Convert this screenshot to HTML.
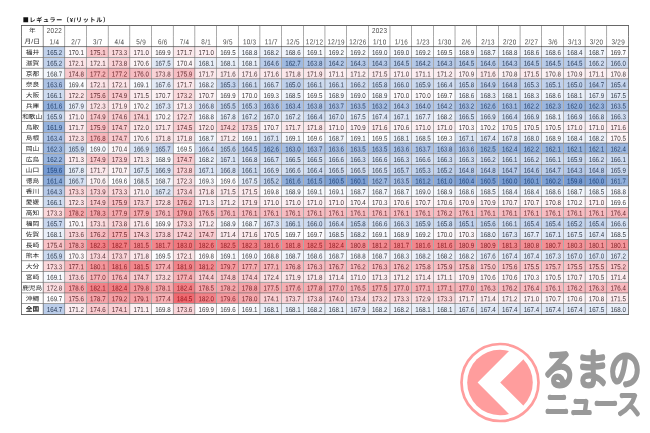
<!DOCTYPE html>
<html lang="ja">
<head>
<meta charset="utf-8">
<title>レギュラー（¥/リットル）</title>
<style>
html,body{margin:0;padding:0;background:#fff;}
body{width:650px;height:433px;position:relative;overflow:hidden;font-family:"Liberation Sans","Noto Sans CJK JP",sans-serif;}
#sheet{position:absolute;left:0;top:0;width:2352px;height:971.31px;transform-origin:0 0;transform:translate(21.450px,25.650px) scale(0.25808,0.29730);}
#title{position:absolute;left:23px;top:15px;margin:0;font-size:6px;line-height:10px;height:10px;font-weight:bold;color:#111;white-space:nowrap;letter-spacing:0.7px;font-family:"Liberation Sans","Noto Sans CJK JP",sans-serif;transform-origin:0 0;transform:matrix(1,0.0006,0,1,-0.2,0.05);}
table{text-rendering:geometricPrecision;position:absolute;left:-1.0px;top:-1.0px;border-collapse:collapse;table-layout:fixed;width:2354px;font-size:24px;color:#3a3a3a;}
col{width:84px;}
td,th{box-sizing:border-box;padding:0 0 4px 4px;text-align:center;vertical-align:bottom;font-weight:normal;border:2px solid #5c5c5c;height:36px;line-height:20px;white-space:nowrap;overflow:hidden;}
thead th{font-size:24.5px;height:35.654px;letter-spacing:1.2px;color:#484848;}
thead tr.y th{border-bottom:none;padding-bottom:7.4px;}
thead tr.d th{border-top:none;padding-bottom:4.4px;}
tbody th,thead th.j{font-family:"Liberation Sans","Noto Sans CJK JP",sans-serif;font-size:20.5px;font-weight:400;color:#222;padding-left:0;padding-bottom:5.5px;}
thead tr.y th.j{padding-bottom:9px;letter-spacing:0;}
thead tr.d th.j{padding-bottom:6.5px;letter-spacing:0.5px;padding-left:0.5px;}
#title .sq{font-family:"Noto Sans CJK JP",sans-serif;}
th span{display:inline-block;transform:matrix(1.27,0.002,0,1,0,0);}
td i,th i{display:inline-block;font-style:normal;transform:matrix(1,0.002,0,1,0,0);}
tbody tr.total th{font-weight:700;}
thead tr.y th{border-top-color:#000;}
tbody tr.total>*{border-bottom-color:#000;}
tr>:first-child{border-left-color:#000;border-right-color:#2a2a2a;}
tr>:last-child{border-right-color:#000;}
thead tr.d th{border-bottom-color:#2a2a2a;}
#logo{position:absolute;left:0;top:0;width:650px;height:433px;}
</style>
</head>
<body>
<h1 id="title"><span class="sq">■</span>レギュラー（¥/リットル）</h1>
<div id="sheet">
<table>
<colgroup><col><col><col><col><col><col><col><col><col><col><col><col><col><col><col><col><col><col><col><col><col><col><col><col><col><col><col><col></colgroup>
<thead>
<tr class="y"><th class="j"><span>年</span></th><th><i>2022</i></th><th></th><th></th><th></th><th></th><th></th><th></th><th></th><th></th><th></th><th></th><th></th><th></th><th></th><th></th><th><i>2023</i></th><th></th><th></th><th></th><th></th><th></th><th></th><th></th><th></th><th></th><th></th><th></th></tr>
<tr class="d"><th class="j"><span>月/日</span></th><th><i>1/4</i></th><th><i>2/7</i></th><th><i>3/7</i></th><th><i>4/4</i></th><th><i>5/9</i></th><th><i>6/6</i></th><th><i>7/4</i></th><th><i>8/1</i></th><th><i>9/5</i></th><th><i>10/3</i></th><th><i>11/7</i></th><th><i>12/5</i></th><th><i>12/12</i></th><th><i>12/19</i></th><th><i>12/26</i></th><th><i>1/10</i></th><th><i>1/16</i></th><th><i>1/23</i></th><th><i>1/30</i></th><th><i>2/6</i></th><th><i>2/13</i></th><th><i>2/20</i></th><th><i>2/27</i></th><th><i>3/6</i></th><th><i>3/13</i></th><th><i>3/20</i></th><th><i>3/29</i></th></tr>
</thead>
<tbody>
<tr><th><span>福井</span></th><td style="background:#c2d2eb;color:#2c3c55"><i>165.2</i></td><td style="background:#fdf8fa;color:#3d383a"><i>170.1</i></td><td style="background:#f8c6ca;color:#5d2b2f"><i>175.1</i></td><td style="background:#fad8db;color:#512f32"><i>173.3</i></td><td style="background:#fceff2;color:#433639"><i>171.0</i></td><td style="background:#fdfafc;color:#3c393b"><i>169.9</i></td><td style="background:#fbe8eb;color:#473437"><i>171.7</i></td><td style="background:#fceff2;color:#433639"><i>171.0</i></td><td style="background:#fcfdff;color:#393a3c"><i>169.5</i></td><td style="background:#f3f6fc;color:#373a40"><i>168.8</i></td><td style="background:#ebf0f9;color:#353a43"><i>168.2</i></td><td style="background:#f0f4fb;color:#363a41"><i>168.6</i></td><td style="background:#f7f9fd;color:#383a3e"><i>169.1</i></td><td style="background:#f8fafd;color:#383a3d"><i>169.2</i></td><td style="background:#f8fafd;color:#383a3d"><i>169.2</i></td><td style="background:#f6f8fd;color:#383a3f"><i>169.0</i></td><td style="background:#f6f8fd;color:#383a3f"><i>169.0</i></td><td style="background:#f8fafd;color:#383a3d"><i>169.2</i></td><td style="background:#fcfdff;color:#393a3c"><i>169.5</i></td><td style="background:#f4f7fc;color:#373a3f"><i>168.9</i></td><td style="background:#f1f5fb;color:#373b41"><i>168.7</i></td><td style="background:#f3f6fc;color:#373a40"><i>168.8</i></td><td style="background:#f0f4fb;color:#363a41"><i>168.6</i></td><td style="background:#f0f4fb;color:#363a41"><i>168.6</i></td><td style="background:#edf2fa;color:#363b43"><i>168.4</i></td><td style="background:#f1f5fb;color:#373b41"><i>168.7</i></td><td style="background:#fdfcfe;color:#3a393b"><i>169.7</i></td></tr>
<tr><th><span>滋賀</span></th><td style="background:#c2d2eb;color:#2c3c55"><i>165.2</i></td><td style="background:#fbe4e7;color:#4a3336"><i>172.1</i></td><td style="background:#fbe4e7;color:#4a3336"><i>172.1</i></td><td style="background:#f9d3d7;color:#542e32"><i>173.8</i></td><td style="background:#fcf3f5;color:#403739"><i>170.6</i></td><td style="background:#e1e9f6;color:#333b48"><i>167.5</i></td><td style="background:#fcf5f7;color:#3f383a"><i>170.4</i></td><td style="background:#e9eff8;color:#353b44"><i>168.1</i></td><td style="background:#e9eff8;color:#353b44"><i>168.1</i></td><td style="background:#e9eff8;color:#353b44"><i>168.1</i></td><td style="background:#bacce9;color:#2a3c59"><i>164.6</i></td><td style="background:#a0bae0;color:#233d63"><i>162.7</i></td><td style="background:#afc4e5;color:#283d5e"><i>163.8</i></td><td style="background:#b4c8e7;color:#283c5b"><i>164.2</i></td><td style="background:#b6c9e7;color:#293c5a"><i>164.3</i></td><td style="background:#b6c9e7;color:#293c5a"><i>164.3</i></td><td style="background:#b8cbe8;color:#293c59"><i>164.5</i></td><td style="background:#b4c8e7;color:#283c5b"><i>164.2</i></td><td style="background:#b6c9e7;color:#293c5a"><i>164.3</i></td><td style="background:#b8cbe8;color:#293c59"><i>164.5</i></td><td style="background:#bacce9;color:#2a3c59"><i>164.6</i></td><td style="background:#b6c9e7;color:#293c5a"><i>164.3</i></td><td style="background:#b8cbe8;color:#293c59"><i>164.5</i></td><td style="background:#b8cbe8;color:#293c59"><i>164.5</i></td><td style="background:#b8cbe8;color:#293c59"><i>164.5</i></td><td style="background:#d0dcf0;color:#2f3b4f"><i>166.2</i></td><td style="background:#cddaef;color:#2e3b50"><i>166.0</i></td></tr>
<tr><th><span>京都</span></th><td style="background:#f1f5fb;color:#373b41"><i>168.7</i></td><td style="background:#f8c9cd;color:#5a2b2f"><i>174.8</i></td><td style="background:#f6b2b6;color:#692529"><i>177.2</i></td><td style="background:#f6b2b6;color:#692529"><i>177.2</i></td><td style="background:#f7bdc2;color:#62282d"><i>176.0</i></td><td style="background:#f9d3d7;color:#542e32"><i>173.8</i></td><td style="background:#f7bec3;color:#61282d"><i>175.9</i></td><td style="background:#fbe8eb;color:#473437"><i>171.7</i></td><td style="background:#fbe9ec;color:#463437"><i>171.6</i></td><td style="background:#fbe9ec;color:#463437"><i>171.6</i></td><td style="background:#fbe9ec;color:#463437"><i>171.6</i></td><td style="background:#fbe7ea;color:#483437"><i>171.8</i></td><td style="background:#fbe6e9;color:#483336"><i>171.9</i></td><td style="background:#fceef1;color:#433538"><i>171.1</i></td><td style="background:#fbedf0;color:#433538"><i>171.2</i></td><td style="background:#fbeaed;color:#463538"><i>171.5</i></td><td style="background:#fceff2;color:#433639"><i>171.0</i></td><td style="background:#fceef1;color:#433538"><i>171.1</i></td><td style="background:#fbedf0;color:#433538"><i>171.2</i></td><td style="background:#fcf0f3;color:#423639"><i>170.9</i></td><td style="background:#fbe9ec;color:#463437"><i>171.6</i></td><td style="background:#fcf1f3;color:#413638"><i>170.8</i></td><td style="background:#fbeaed;color:#463538"><i>171.5</i></td><td style="background:#fcf1f3;color:#413638"><i>170.8</i></td><td style="background:#fcf0f3;color:#423639"><i>170.9</i></td><td style="background:#fceef1;color:#433538"><i>171.1</i></td><td style="background:#fcf1f3;color:#413638"><i>170.8</i></td></tr>
<tr><th><span>奈良</span></th><td style="background:#acc2e4;color:#273d5f"><i>163.6</i></td><td style="background:#fbfcfe;color:#393a3c"><i>169.4</i></td><td style="background:#fbe4e7;color:#4a3336"><i>172.1</i></td><td style="background:#fbe4e7;color:#4a3336"><i>172.1</i></td><td style="background:#f7f9fd;color:#383a3e"><i>169.1</i></td><td style="background:#e3eaf6;color:#343b47"><i>167.6</i></td><td style="background:#fbe8eb;color:#473437"><i>171.7</i></td><td style="background:#ebf0f9;color:#353a43"><i>168.2</i></td><td style="background:#c3d3ec;color:#2c3c55"><i>165.3</i></td><td style="background:#cedbef;color:#2f3c50"><i>166.1</i></td><td style="background:#d6e1f2;color:#303b4c"><i>166.7</i></td><td style="background:#bfd0ea;color:#2b3c56"><i>165.0</i></td><td style="background:#cedbef;color:#2f3c50"><i>166.1</i></td><td style="background:#cedbef;color:#2f3c50"><i>166.1</i></td><td style="background:#d0dcf0;color:#2f3b4f"><i>166.2</i></td><td style="background:#cad8ee;color:#2e3c52"><i>165.8</i></td><td style="background:#cddaef;color:#2e3b50"><i>166.0</i></td><td style="background:#cbd9ee;color:#2e3c51"><i>165.9</i></td><td style="background:#d2def1;color:#2f3b4e"><i>166.4</i></td><td style="background:#cad8ee;color:#2e3c52"><i>165.8</i></td><td style="background:#becfea;color:#2b3c57"><i>164.9</i></td><td style="background:#bdceea;color:#2b3c58"><i>164.8</i></td><td style="background:#c3d3ec;color:#2c3c55"><i>165.3</i></td><td style="background:#c1d1eb;color:#2c3c56"><i>165.1</i></td><td style="background:#bfd0ea;color:#2b3c56"><i>165.0</i></td><td style="background:#bbcde9;color:#2a3c58"><i>164.7</i></td><td style="background:#c5d4ec;color:#2d3c54"><i>165.4</i></td></tr>
<tr><th><span>大阪</span></th><td style="background:#cedbef;color:#2f3c50"><i>166.1</i></td><td style="background:#fbe3e6;color:#4a3235"><i>172.2</i></td><td style="background:#f7c1c5;color:#5f292d"><i>175.6</i></td><td style="background:#f8c8cc;color:#5b2b2f"><i>174.9</i></td><td style="background:#fbeaed;color:#463538"><i>171.5</i></td><td style="background:#fcf2f4;color:#413739"><i>170.7</i></td><td style="background:#fad9dc;color:#513033"><i>173.2</i></td><td style="background:#fcf2f4;color:#413739"><i>170.7</i></td><td style="background:#fdfafc;color:#3c393b"><i>169.9</i></td><td style="background:#fdf9fb;color:#3d393b"><i>170.0</i></td><td style="background:#fafbfe;color:#393a3d"><i>169.3</i></td><td style="background:#eff3fa;color:#363a41"><i>168.5</i></td><td style="background:#fcfdff;color:#393a3c"><i>169.5</i></td><td style="background:#f4f7fc;color:#373a3f"><i>168.9</i></td><td style="background:#f6f8fd;color:#383a3f"><i>169.0</i></td><td style="background:#f4f7fc;color:#373a3f"><i>168.9</i></td><td style="background:#fdf9fb;color:#3d393b"><i>170.0</i></td><td style="background:#fdf9fb;color:#3d393b"><i>170.0</i></td><td style="background:#fdfcfe;color:#3a393b"><i>169.7</i></td><td style="background:#f0f4fb;color:#363a41"><i>168.6</i></td><td style="background:#ecf1f9;color:#363b43"><i>168.3</i></td><td style="background:#e9eff8;color:#353b44"><i>168.1</i></td><td style="background:#ecf1f9;color:#363b43"><i>168.3</i></td><td style="background:#f0f4fb;color:#363a41"><i>168.6</i></td><td style="background:#e9eff8;color:#353b44"><i>168.1</i></td><td style="background:#e7edf8;color:#353b46"><i>167.9</i></td><td style="background:#e1e9f6;color:#333b48"><i>167.5</i></td></tr>
<tr><th><span>兵庫</span></th><td style="background:#91afdb;color:#203e6a"><i>161.6</i></td><td style="background:#e7edf8;color:#353b46"><i>167.9</i></td><td style="background:#fae2e5;color:#4a3235"><i>172.3</i></td><td style="background:#fbe6e9;color:#483336"><i>171.9</i></td><td style="background:#fcf7f9;color:#3d383a"><i>170.2</i></td><td style="background:#dee7f5;color:#323b49"><i>167.3</i></td><td style="background:#fbecef;color:#443538"><i>171.3</i></td><td style="background:#d8e2f3;color:#313b4c"><i>166.8</i></td><td style="background:#c6d5ed;color:#2d3c54"><i>165.5</i></td><td style="background:#c3d3ec;color:#2c3c55"><i>165.3</i></td><td style="background:#acc2e4;color:#273d5f"><i>163.6</i></td><td style="background:#aac0e3;color:#273d60"><i>163.4</i></td><td style="background:#afc4e5;color:#283d5e"><i>163.8</i></td><td style="background:#aec3e5;color:#273c5e"><i>163.7</i></td><td style="background:#abc1e4;color:#273d60"><i>163.5</i></td><td style="background:#a7bee2;color:#263d61"><i>163.2</i></td><td style="background:#b6c9e7;color:#293c5a"><i>164.3</i></td><td style="background:#b2c6e6;color:#283c5c"><i>164.0</i></td><td style="background:#b4c8e7;color:#283c5b"><i>164.2</i></td><td style="background:#a7bee2;color:#263d61"><i>163.2</i></td><td style="background:#9fb9e0;color:#233d64"><i>162.6</i></td><td style="background:#a5bde2;color:#253d62"><i>163.1</i></td><td style="background:#99b5de;color:#223e67"><i>162.2</i></td><td style="background:#9bb6de;color:#233e66"><i>162.3</i></td><td style="background:#97b3dd;color:#223e68"><i>162.0</i></td><td style="background:#9bb6de;color:#233e66"><i>162.3</i></td><td style="background:#abc1e4;color:#273d60"><i>163.5</i></td></tr>
<tr><th><span>和歌山</span></th><td style="background:#cbd9ee;color:#2e3c51"><i>165.9</i></td><td style="background:#fceff2;color:#433639"><i>171.0</i></td><td style="background:#f8c8cc;color:#5b2b2f"><i>174.9</i></td><td style="background:#f8cbcf;color:#592c30"><i>174.6</i></td><td style="background:#f9d0d4;color:#562d31"><i>174.1</i></td><td style="background:#fcf7f9;color:#3d383a"><i>170.2</i></td><td style="background:#fadee1;color:#4d3134"><i>172.7</i></td><td style="background:#f3f6fc;color:#373a40"><i>168.8</i></td><td style="background:#e5ecf7;color:#343b46"><i>167.8</i></td><td style="background:#dde6f4;color:#323b49"><i>167.2</i></td><td style="background:#dae4f3;color:#313b4a"><i>167.0</i></td><td style="background:#dde6f4;color:#323b49"><i>167.2</i></td><td style="background:#d2def1;color:#2f3b4e"><i>166.4</i></td><td style="background:#dae4f3;color:#313b4a"><i>167.0</i></td><td style="background:#e1e9f6;color:#333b48"><i>167.5</i></td><td style="background:#e0e8f5;color:#333b48"><i>167.4</i></td><td style="background:#dce5f4;color:#323b4a"><i>167.1</i></td><td style="background:#e4ebf7;color:#343b47"><i>167.7</i></td><td style="background:#ebf0f9;color:#353a43"><i>168.2</i></td><td style="background:#d4dff1;color:#303b4d"><i>166.5</i></td><td style="background:#d9e3f3;color:#313b4b"><i>166.9</i></td><td style="background:#d2def1;color:#2f3b4e"><i>166.4</i></td><td style="background:#d9e3f3;color:#313b4b"><i>166.9</i></td><td style="background:#e9eff8;color:#353b44"><i>168.1</i></td><td style="background:#d9e3f3;color:#313b4b"><i>166.9</i></td><td style="background:#d8e2f3;color:#313b4c"><i>166.8</i></td><td style="background:#d1ddf0;color:#2f3b4e"><i>166.3</i></td></tr>
<tr><th><span>鳥取</span></th><td style="background:#95b2dc;color:#213e68"><i>161.9</i></td><td style="background:#fbe8eb;color:#473437"><i>171.7</i></td><td style="background:#f7bec3;color:#61282d"><i>175.9</i></td><td style="background:#f8cace;color:#5a2c30"><i>174.7</i></td><td style="background:#fbe5e8;color:#493336"><i>172.0</i></td><td style="background:#fbe8eb;color:#473437"><i>171.7</i></td><td style="background:#f8ccd0;color:#582c30"><i>174.5</i></td><td style="background:#fbe5e8;color:#493336"><i>172.0</i></td><td style="background:#f9cfd3;color:#572d31"><i>174.2</i></td><td style="background:#f9d6da;color:#522f33"><i>173.5</i></td><td style="background:#fcf2f4;color:#413739"><i>170.7</i></td><td style="background:#fbe8eb;color:#473437"><i>171.7</i></td><td style="background:#fbe7ea;color:#483437"><i>171.8</i></td><td style="background:#fceff2;color:#433639"><i>171.0</i></td><td style="background:#fcf0f3;color:#423639"><i>170.9</i></td><td style="background:#fbe9ec;color:#463437"><i>171.6</i></td><td style="background:#fcf3f5;color:#403739"><i>170.6</i></td><td style="background:#fceff2;color:#433639"><i>171.0</i></td><td style="background:#fceff2;color:#433639"><i>171.0</i></td><td style="background:#fcf6f8;color:#3e383a"><i>170.3</i></td><td style="background:#fcf7f9;color:#3d383a"><i>170.2</i></td><td style="background:#fcf4f6;color:#3f3739"><i>170.5</i></td><td style="background:#fcf4f6;color:#3f3739"><i>170.5</i></td><td style="background:#fcf4f6;color:#3f3739"><i>170.5</i></td><td style="background:#fceff2;color:#433639"><i>171.0</i></td><td style="background:#fceff2;color:#433639"><i>171.0</i></td><td style="background:#fbe9ec;color:#463437"><i>171.6</i></td></tr>
<tr><th><span>島根</span></th><td style="background:#aac0e3;color:#273d60"><i>163.4</i></td><td style="background:#fae2e5;color:#4a3235"><i>172.3</i></td><td style="background:#f6b5ba;color:#67262b"><i>176.8</i></td><td style="background:#f8cace;color:#5a2c30"><i>174.7</i></td><td style="background:#fcf3f5;color:#403739"><i>170.6</i></td><td style="background:#fbe7ea;color:#483437"><i>171.8</i></td><td style="background:#fbe7ea;color:#483437"><i>171.8</i></td><td style="background:#f1f5fb;color:#373b41"><i>168.7</i></td><td style="background:#fbedf0;color:#433538"><i>171.2</i></td><td style="background:#f7f9fd;color:#383a3e"><i>169.1</i></td><td style="background:#dce5f4;color:#323b4a"><i>167.1</i></td><td style="background:#f7f9fd;color:#383a3e"><i>169.1</i></td><td style="background:#fdfdff;color:#3a3a3c"><i>169.6</i></td><td style="background:#f1f5fb;color:#373b41"><i>168.7</i></td><td style="background:#f7f9fd;color:#383a3e"><i>169.1</i></td><td style="background:#fcfdff;color:#393a3c"><i>169.5</i></td><td style="background:#e9eff8;color:#353b44"><i>168.1</i></td><td style="background:#eff3fa;color:#363a41"><i>168.5</i></td><td style="background:#fafbfe;color:#393a3d"><i>169.3</i></td><td style="background:#dce5f4;color:#323b4a"><i>167.1</i></td><td style="background:#e0e8f5;color:#333b48"><i>167.4</i></td><td style="background:#e5ecf7;color:#343b46"><i>167.8</i></td><td style="background:#e8eef8;color:#353b45"><i>168.0</i></td><td style="background:#f4f7fc;color:#373a3f"><i>168.9</i></td><td style="background:#edf2fa;color:#363b43"><i>168.4</i></td><td style="background:#ebf0f9;color:#353a43"><i>168.2</i></td><td style="background:#fcf4f6;color:#3f3739"><i>170.5</i></td></tr>
<tr><th><span>岡山</span></th><td style="background:#9bb6de;color:#233e66"><i>162.3</i></td><td style="background:#cbd9ee;color:#2e3c51"><i>165.9</i></td><td style="background:#f6f8fd;color:#383a3f"><i>169.0</i></td><td style="background:#fcf5f7;color:#3f383a"><i>170.4</i></td><td style="background:#d9e3f3;color:#313b4b"><i>166.9</i></td><td style="background:#c9d7ee;color:#2e3c53"><i>165.7</i></td><td style="background:#fcfdff;color:#393a3c"><i>169.5</i></td><td style="background:#d2def1;color:#2f3b4e"><i>166.4</i></td><td style="background:#c7d6ed;color:#2d3c53"><i>165.6</i></td><td style="background:#b8cbe8;color:#293c59"><i>164.5</i></td><td style="background:#9fb9e0;color:#233d64"><i>162.6</i></td><td style="background:#a4bce1;color:#253d62"><i>163.0</i></td><td style="background:#aec3e5;color:#273c5e"><i>163.7</i></td><td style="background:#acc2e4;color:#273d5f"><i>163.6</i></td><td style="background:#abc1e4;color:#273d60"><i>163.5</i></td><td style="background:#abc1e4;color:#273d60"><i>163.5</i></td><td style="background:#acc2e4;color:#273d5f"><i>163.6</i></td><td style="background:#aec3e5;color:#273c5e"><i>163.7</i></td><td style="background:#afc4e5;color:#283d5e"><i>163.8</i></td><td style="background:#acc2e4;color:#273d5f"><i>163.6</i></td><td style="background:#9db8df;color:#233e65"><i>162.5</i></td><td style="background:#9cb7df;color:#233e66"><i>162.4</i></td><td style="background:#99b5de;color:#223e67"><i>162.2</i></td><td style="background:#98b4dd;color:#223e67"><i>162.1</i></td><td style="background:#98b4dd;color:#223e67"><i>162.1</i></td><td style="background:#98b4dd;color:#223e67"><i>162.1</i></td><td style="background:#9cb7df;color:#233e66"><i>162.4</i></td></tr>
<tr><th><span>広島</span></th><td style="background:#99b5de;color:#223e67"><i>162.2</i></td><td style="background:#fbecef;color:#443538"><i>171.3</i></td><td style="background:#f8c8cc;color:#5b2b2f"><i>174.9</i></td><td style="background:#f9d2d6;color:#552e32"><i>173.9</i></td><td style="background:#fbecef;color:#443538"><i>171.3</i></td><td style="background:#f4f7fc;color:#373a3f"><i>168.9</i></td><td style="background:#f8cace;color:#5a2c30"><i>174.7</i></td><td style="background:#ebf0f9;color:#353a43"><i>168.2</i></td><td style="background:#dce5f4;color:#323b4a"><i>167.1</i></td><td style="background:#d8e2f3;color:#313b4c"><i>166.8</i></td><td style="background:#d6e1f2;color:#303b4c"><i>166.7</i></td><td style="background:#d4dff1;color:#303b4d"><i>166.5</i></td><td style="background:#d4dff1;color:#303b4d"><i>166.5</i></td><td style="background:#d5e0f2;color:#303b4d"><i>166.6</i></td><td style="background:#d1ddf0;color:#2f3b4e"><i>166.3</i></td><td style="background:#d5e0f2;color:#303b4d"><i>166.6</i></td><td style="background:#d1ddf0;color:#2f3b4e"><i>166.3</i></td><td style="background:#d5e0f2;color:#303b4d"><i>166.6</i></td><td style="background:#d1ddf0;color:#2f3b4e"><i>166.3</i></td><td style="background:#d1ddf0;color:#2f3b4e"><i>166.3</i></td><td style="background:#d0dcf0;color:#2f3b4f"><i>166.2</i></td><td style="background:#cedbef;color:#2f3c50"><i>166.1</i></td><td style="background:#d0dcf0;color:#2f3b4f"><i>166.2</i></td><td style="background:#cedbef;color:#2f3c50"><i>166.1</i></td><td style="background:#cbd9ee;color:#2e3c51"><i>165.9</i></td><td style="background:#d0dcf0;color:#2f3b4f"><i>166.2</i></td><td style="background:#cedbef;color:#2f3c50"><i>166.1</i></td></tr>
<tr><th><span>山口</span></th><td style="background:#769bd2;color:#1a3f76"><i>159.6</i></td><td style="background:#e5ecf7;color:#343b46"><i>167.8</i></td><td style="background:#fbe8eb;color:#473437"><i>171.7</i></td><td style="background:#fcf2f4;color:#413739"><i>170.7</i></td><td style="background:#e1e9f6;color:#333b48"><i>167.5</i></td><td style="background:#d9e3f3;color:#313b4b"><i>166.9</i></td><td style="background:#f9d3d7;color:#542e32"><i>173.8</i></td><td style="background:#dce5f4;color:#323b4a"><i>167.1</i></td><td style="background:#d8e2f3;color:#313b4c"><i>166.8</i></td><td style="background:#cedbef;color:#2f3c50"><i>166.1</i></td><td style="background:#d9e3f3;color:#313b4b"><i>166.9</i></td><td style="background:#d5e0f2;color:#303b4d"><i>166.6</i></td><td style="background:#d2def1;color:#2f3b4e"><i>166.4</i></td><td style="background:#d4dff1;color:#303b4d"><i>166.5</i></td><td style="background:#d4dff1;color:#303b4d"><i>166.5</i></td><td style="background:#d4dff1;color:#303b4d"><i>166.5</i></td><td style="background:#c9d7ee;color:#2e3c53"><i>165.7</i></td><td style="background:#c3d3ec;color:#2c3c55"><i>165.3</i></td><td style="background:#c2d2eb;color:#2c3c55"><i>165.2</i></td><td style="background:#bdceea;color:#2b3c58"><i>164.8</i></td><td style="background:#bdceea;color:#2b3c58"><i>164.8</i></td><td style="background:#bbcde9;color:#2a3c58"><i>164.7</i></td><td style="background:#bacce9;color:#2a3c59"><i>164.6</i></td><td style="background:#bbcde9;color:#2a3c58"><i>164.7</i></td><td style="background:#b6c9e7;color:#293c5a"><i>164.3</i></td><td style="background:#bdceea;color:#2b3c58"><i>164.8</i></td><td style="background:#cbd9ee;color:#2e3c51"><i>165.9</i></td></tr>
<tr><th><span>徳島</span></th><td style="background:#8eadda;color:#1f3e6b"><i>161.4</i></td><td style="background:#d6e1f2;color:#303b4c"><i>166.7</i></td><td style="background:#fcf3f5;color:#403739"><i>170.6</i></td><td style="background:#fdfdff;color:#3a3a3c"><i>169.6</i></td><td style="background:#eff3fa;color:#363a41"><i>168.5</i></td><td style="background:#f1f5fb;color:#373b41"><i>168.7</i></td><td style="background:#fae2e5;color:#4a3235"><i>172.3</i></td><td style="background:#fafbfe;color:#393a3d"><i>169.3</i></td><td style="background:#fdfdff;color:#3a3a3c"><i>169.6</i></td><td style="background:#e1e9f6;color:#333b48"><i>167.5</i></td><td style="background:#c2d2eb;color:#2c3c55"><i>165.2</i></td><td style="background:#91afdb;color:#203e6a"><i>161.6</i></td><td style="background:#90aedb;color:#203e6b"><i>161.5</i></td><td style="background:#82a4d6;color:#1c3e70"><i>160.5</i></td><td style="background:#7da0d4;color:#1c3f73"><i>160.1</i></td><td style="background:#a0bae0;color:#233d63"><i>162.7</i></td><td style="background:#abc1e4;color:#273d60"><i>163.5</i></td><td style="background:#8cabd9;color:#1f3e6c"><i>161.2</i></td><td style="background:#89a9d8;color:#1e3e6d"><i>161.0</i></td><td style="background:#81a3d6;color:#1c3e71"><i>160.4</i></td><td style="background:#82a4d6;color:#1c3e70"><i>160.5</i></td><td style="background:#7b9fd4;color:#1b3f74"><i>160.0</i></td><td style="background:#7da0d4;color:#1c3f73"><i>160.1</i></td><td style="background:#7ea1d5;color:#1c3f73"><i>160.2</i></td><td style="background:#799dd3;color:#1b3f75"><i>159.8</i></td><td style="background:#7b9fd4;color:#1b3f74"><i>160.0</i></td><td style="background:#92b0db;color:#203e69"><i>161.7</i></td></tr>
<tr><th><span>香川</span></th><td style="background:#b6c9e7;color:#293c5a"><i>164.3</i></td><td style="background:#fad8db;color:#512f32"><i>173.3</i></td><td style="background:#f9d2d6;color:#552e32"><i>173.9</i></td><td style="background:#fad8db;color:#512f32"><i>173.3</i></td><td style="background:#fceff2;color:#433639"><i>171.0</i></td><td style="background:#dde6f4;color:#323b49"><i>167.2</i></td><td style="background:#f9d7db;color:#512f33"><i>173.4</i></td><td style="background:#fbe7ea;color:#483437"><i>171.8</i></td><td style="background:#fbeaed;color:#463538"><i>171.5</i></td><td style="background:#fbeaed;color:#463538"><i>171.5</i></td><td style="background:#fdfbfd;color:#3b393b"><i>169.8</i></td><td style="background:#f4f7fc;color:#373a3f"><i>168.9</i></td><td style="background:#f7f9fd;color:#383a3e"><i>169.1</i></td><td style="background:#f7f9fd;color:#383a3e"><i>169.1</i></td><td style="background:#f1f5fb;color:#373b41"><i>168.7</i></td><td style="background:#f1f5fb;color:#373b41"><i>168.7</i></td><td style="background:#f1f5fb;color:#373b41"><i>168.7</i></td><td style="background:#f6f8fd;color:#383a3f"><i>169.0</i></td><td style="background:#f4f7fc;color:#373a3f"><i>168.9</i></td><td style="background:#f0f4fb;color:#363a41"><i>168.6</i></td><td style="background:#eff3fa;color:#363a41"><i>168.5</i></td><td style="background:#edf2fa;color:#363b43"><i>168.4</i></td><td style="background:#edf2fa;color:#363b43"><i>168.4</i></td><td style="background:#f0f4fb;color:#363a41"><i>168.6</i></td><td style="background:#f1f5fb;color:#373b41"><i>168.7</i></td><td style="background:#eff3fa;color:#363a41"><i>168.5</i></td><td style="background:#f3f6fc;color:#373a40"><i>168.8</i></td></tr>
<tr><th><span>愛媛</span></th><td style="background:#cedbef;color:#2f3c50"><i>166.1</i></td><td style="background:#fae2e5;color:#4a3235"><i>172.3</i></td><td style="background:#f8c8cc;color:#5b2b2f"><i>174.9</i></td><td style="background:#f7bec3;color:#61282d"><i>175.9</i></td><td style="background:#f9d4d8;color:#532e32"><i>173.7</i></td><td style="background:#fadde0;color:#4e3134"><i>172.8</i></td><td style="background:#f7bbc0;color:#63272c"><i>176.2</i></td><td style="background:#fbecef;color:#443538"><i>171.3</i></td><td style="background:#fbedf0;color:#433538"><i>171.2</i></td><td style="background:#fbe6e9;color:#483336"><i>171.9</i></td><td style="background:#fceff2;color:#433639"><i>171.0</i></td><td style="background:#fceff2;color:#433639"><i>171.0</i></td><td style="background:#fceff2;color:#433639"><i>171.0</i></td><td style="background:#fceff2;color:#433639"><i>171.0</i></td><td style="background:#fcf5f7;color:#3f383a"><i>170.4</i></td><td style="background:#fcf6f8;color:#3e383a"><i>170.3</i></td><td style="background:#fcf3f5;color:#403739"><i>170.6</i></td><td style="background:#fcf2f4;color:#413739"><i>170.7</i></td><td style="background:#fcf3f5;color:#403739"><i>170.6</i></td><td style="background:#fcf0f3;color:#423639"><i>170.9</i></td><td style="background:#fcf0f3;color:#423639"><i>170.9</i></td><td style="background:#fcf2f4;color:#413739"><i>170.7</i></td><td style="background:#fcf2f4;color:#413739"><i>170.7</i></td><td style="background:#fcf1f3;color:#413638"><i>170.8</i></td><td style="background:#fcf7f9;color:#3d383a"><i>170.2</i></td><td style="background:#fceff2;color:#433639"><i>171.0</i></td><td style="background:#fdfdff;color:#3a3a3c"><i>169.6</i></td></tr>
<tr><th><span>高知</span></th><td style="background:#fad8db;color:#512f32"><i>173.3</i></td><td style="background:#f5a8ac;color:#702327"><i>178.2</i></td><td style="background:#f5a7ac;color:#702227"><i>178.3</i></td><td style="background:#f5abaf;color:#6d2327"><i>177.9</i></td><td style="background:#f5abaf;color:#6d2327"><i>177.9</i></td><td style="background:#f7bcc1;color:#63282d"><i>176.1</i></td><td style="background:#f4a0a5;color:#742025"><i>179.0</i></td><td style="background:#f7b8bd;color:#66272c"><i>176.5</i></td><td style="background:#f7bcc1;color:#63282d"><i>176.1</i></td><td style="background:#f7bcc1;color:#63282d"><i>176.1</i></td><td style="background:#f7bcc1;color:#63282d"><i>176.1</i></td><td style="background:#f7bcc1;color:#63282d"><i>176.1</i></td><td style="background:#f7bcc1;color:#63282d"><i>176.1</i></td><td style="background:#f7bcc1;color:#63282d"><i>176.1</i></td><td style="background:#f7bcc1;color:#63282d"><i>176.1</i></td><td style="background:#f7bcc1;color:#63282d"><i>176.1</i></td><td style="background:#f7bcc1;color:#63282d"><i>176.1</i></td><td style="background:#f7bcc1;color:#63282d"><i>176.1</i></td><td style="background:#f7bbc0;color:#63272c"><i>176.2</i></td><td style="background:#f7bcc1;color:#63282d"><i>176.1</i></td><td style="background:#f7bcc1;color:#63282d"><i>176.1</i></td><td style="background:#f7bcc1;color:#63282d"><i>176.1</i></td><td style="background:#f7bcc1;color:#63282d"><i>176.1</i></td><td style="background:#f7bcc1;color:#63282d"><i>176.1</i></td><td style="background:#f7bcc1;color:#63282d"><i>176.1</i></td><td style="background:#f7bcc1;color:#63282d"><i>176.1</i></td><td style="background:#f7b9be;color:#65272c"><i>176.4</i></td></tr>
<tr><th><span>福岡</span></th><td style="background:#c9d7ee;color:#2e3c53"><i>165.7</i></td><td style="background:#fdf8fa;color:#3d383a"><i>170.1</i></td><td style="background:#fadadd;color:#503033"><i>173.1</i></td><td style="background:#f9d3d7;color:#542e32"><i>173.8</i></td><td style="background:#fbe9ec;color:#463437"><i>171.6</i></td><td style="background:#fdfafc;color:#3c393b"><i>169.9</i></td><td style="background:#fad8db;color:#512f32"><i>173.3</i></td><td style="background:#fbedf0;color:#433538"><i>171.2</i></td><td style="background:#f4f7fc;color:#373a3f"><i>168.9</i></td><td style="background:#f1f5fb;color:#373b41"><i>168.7</i></td><td style="background:#dee7f5;color:#323b49"><i>167.3</i></td><td style="background:#cedbef;color:#2f3c50"><i>166.1</i></td><td style="background:#cddaef;color:#2e3b50"><i>166.0</i></td><td style="background:#d2def1;color:#2f3b4e"><i>166.4</i></td><td style="background:#cad8ee;color:#2e3c52"><i>165.8</i></td><td style="background:#d5e0f2;color:#303b4d"><i>166.6</i></td><td style="background:#d1ddf0;color:#2f3b4e"><i>166.3</i></td><td style="background:#cbd9ee;color:#2e3c51"><i>165.9</i></td><td style="background:#cad8ee;color:#2e3c52"><i>165.8</i></td><td style="background:#c1d1eb;color:#2c3c56"><i>165.1</i></td><td style="background:#c7d6ed;color:#2d3c53"><i>165.6</i></td><td style="background:#cedbef;color:#2f3c50"><i>166.1</i></td><td style="background:#c5d4ec;color:#2d3c54"><i>165.4</i></td><td style="background:#c5d4ec;color:#2d3c54"><i>165.4</i></td><td style="background:#c2d2eb;color:#2c3c55"><i>165.2</i></td><td style="background:#c5d4ec;color:#2d3c54"><i>165.4</i></td><td style="background:#d5e0f2;color:#303b4d"><i>166.6</i></td></tr>
<tr><th><span>佐賀</span></th><td style="background:#e9eff8;color:#353b44"><i>168.1</i></td><td style="background:#f9d5d9;color:#532f33"><i>173.6</i></td><td style="background:#f7bbc0;color:#63272c"><i>176.2</i></td><td style="background:#f6afb3;color:#6b2428"><i>177.5</i></td><td style="background:#f9ced2;color:#582d31"><i>174.3</i></td><td style="background:#f9d3d7;color:#542e32"><i>173.8</i></td><td style="background:#f9cfd3;color:#572d31"><i>174.2</i></td><td style="background:#f8cace;color:#5a2c30"><i>174.7</i></td><td style="background:#fbebee;color:#453538"><i>171.4</i></td><td style="background:#fbe9ec;color:#463437"><i>171.6</i></td><td style="background:#fcf4f6;color:#3f3739"><i>170.5</i></td><td style="background:#fdfcfe;color:#3a393b"><i>169.7</i></td><td style="background:#fdfcfe;color:#3a393b"><i>169.7</i></td><td style="background:#eff3fa;color:#363a41"><i>168.5</i></td><td style="background:#ebf0f9;color:#353a43"><i>168.2</i></td><td style="background:#f7f9fd;color:#383a3e"><i>169.1</i></td><td style="background:#f4f7fc;color:#373a3f"><i>168.9</i></td><td style="background:#f8fafd;color:#383a3d"><i>169.2</i></td><td style="background:#fdf9fb;color:#3d393b"><i>170.0</i></td><td style="background:#fcf6f8;color:#3e383a"><i>170.3</i></td><td style="background:#e8eef8;color:#353b45"><i>168.0</i></td><td style="background:#dee7f5;color:#323b49"><i>167.3</i></td><td style="background:#e4ebf7;color:#343b47"><i>167.7</i></td><td style="background:#dce5f4;color:#323b4a"><i>167.1</i></td><td style="background:#e1e9f6;color:#333b48"><i>167.5</i></td><td style="background:#e0e8f5;color:#333b48"><i>167.4</i></td><td style="background:#eff3fa;color:#363a41"><i>168.5</i></td></tr>
<tr><th><span>長崎</span></th><td style="background:#f8c3c7;color:#5f2a2e"><i>175.4</i></td><td style="background:#f5a7ac;color:#702227"><i>178.3</i></td><td style="background:#f17f85;color:#89171d"><i>182.3</i></td><td style="background:#f17b81;color:#8c161c"><i>182.7</i></td><td style="background:#f2878d;color:#84191f"><i>181.5</i></td><td style="background:#f2858b;color:#86191f"><i>181.7</i></td><td style="background:#f0787e;color:#8d151b"><i>183.0</i></td><td style="background:#f17c82;color:#8b161c"><i>182.6</i></td><td style="background:#f17d83;color:#8b171d"><i>182.5</i></td><td style="background:#f17f85;color:#89171d"><i>182.3</i></td><td style="background:#f2868c;color:#85191f"><i>181.6</i></td><td style="background:#f2848a;color:#86181e"><i>181.8</i></td><td style="background:#f17d83;color:#8b171d"><i>182.5</i></td><td style="background:#f17e84;color:#8a171d"><i>182.4</i></td><td style="background:#f28e94;color:#7f1b21"><i>180.8</i></td><td style="background:#f28a90;color:#821a20"><i>181.2</i></td><td style="background:#f2858b;color:#86191f"><i>181.7</i></td><td style="background:#f2868c;color:#85191f"><i>181.6</i></td><td style="background:#f2868c;color:#85191f"><i>181.6</i></td><td style="background:#f28d93;color:#801b21"><i>180.9</i></td><td style="background:#f28d93;color:#801b21"><i>180.9</i></td><td style="background:#f2898f;color:#831a20"><i>181.3</i></td><td style="background:#f28e94;color:#7f1b21"><i>180.8</i></td><td style="background:#f38f94;color:#801c21"><i>180.7</i></td><td style="background:#f39398;color:#7d1d22"><i>180.3</i></td><td style="background:#f3959a;color:#7b1d22"><i>180.1</i></td><td style="background:#f3959a;color:#7b1d22"><i>180.1</i></td></tr>
<tr><th><span>熊本</span></th><td style="background:#cbd9ee;color:#2e3c51"><i>165.9</i></td><td style="background:#fcf6f8;color:#3e383a"><i>170.3</i></td><td style="background:#f9d7db;color:#512f33"><i>173.4</i></td><td style="background:#f9d4d8;color:#532e32"><i>173.7</i></td><td style="background:#fbe7ea;color:#483437"><i>171.8</i></td><td style="background:#fcfdff;color:#393a3c"><i>169.5</i></td><td style="background:#fbe4e7;color:#4a3336"><i>172.1</i></td><td style="background:#fdfbfd;color:#3b393b"><i>169.8</i></td><td style="background:#f7f9fd;color:#383a3e"><i>169.1</i></td><td style="background:#f6f8fd;color:#383a3f"><i>169.0</i></td><td style="background:#f3f6fc;color:#373a40"><i>168.8</i></td><td style="background:#f1f5fb;color:#373b41"><i>168.7</i></td><td style="background:#f0f4fb;color:#363a41"><i>168.6</i></td><td style="background:#f1f5fb;color:#373b41"><i>168.7</i></td><td style="background:#f3f6fc;color:#373a40"><i>168.8</i></td><td style="background:#f1f5fb;color:#373b41"><i>168.7</i></td><td style="background:#ecf1f9;color:#363b43"><i>168.3</i></td><td style="background:#ebf0f9;color:#353a43"><i>168.2</i></td><td style="background:#ebf0f9;color:#353a43"><i>168.2</i></td><td style="background:#ebf0f9;color:#353a43"><i>168.2</i></td><td style="background:#e3eaf6;color:#343b47"><i>167.6</i></td><td style="background:#e0e8f5;color:#333b48"><i>167.4</i></td><td style="background:#e0e8f5;color:#333b48"><i>167.4</i></td><td style="background:#dee7f5;color:#323b49"><i>167.3</i></td><td style="background:#dae4f3;color:#313b4a"><i>167.0</i></td><td style="background:#dae4f3;color:#313b4a"><i>167.0</i></td><td style="background:#dde6f4;color:#323b49"><i>167.2</i></td></tr>
<tr><th><span>大分</span></th><td style="background:#fad8db;color:#512f32"><i>173.3</i></td><td style="background:#f6b3b7;color:#69262a"><i>177.1</i></td><td style="background:#f3959a;color:#7b1d22"><i>180.1</i></td><td style="background:#f2868c;color:#85191f"><i>181.6</i></td><td style="background:#f2878d;color:#84191f"><i>181.5</i></td><td style="background:#f6b0b4;color:#6b2529"><i>177.4</i></td><td style="background:#f18389;color:#86181e"><i>181.9</i></td><td style="background:#f28a90;color:#821a20"><i>181.2</i></td><td style="background:#f4999e;color:#791e23"><i>179.7</i></td><td style="background:#f5adb1;color:#6c2428"><i>177.7</i></td><td style="background:#f6b3b7;color:#69262a"><i>177.1</i></td><td style="background:#f6b5ba;color:#67262b"><i>176.8</i></td><td style="background:#f7babf;color:#64272c"><i>176.3</i></td><td style="background:#f6b6bb;color:#66262b"><i>176.7</i></td><td style="background:#f7bbc0;color:#63272c"><i>176.2</i></td><td style="background:#f7babf;color:#64272c"><i>176.3</i></td><td style="background:#f7bbc0;color:#63272c"><i>176.2</i></td><td style="background:#f7bfc3;color:#61292d"><i>175.8</i></td><td style="background:#f7bec3;color:#61282d"><i>175.9</i></td><td style="background:#f7bfc3;color:#61292d"><i>175.8</i></td><td style="background:#f8c7cb;color:#5c2b2f"><i>175.0</i></td><td style="background:#f7c1c5;color:#5f292d"><i>175.6</i></td><td style="background:#f7c2c6;color:#5f2a2e"><i>175.5</i></td><td style="background:#f7c0c4;color:#60292d"><i>175.7</i></td><td style="background:#f7c2c6;color:#5f2a2e"><i>175.5</i></td><td style="background:#f7c2c6;color:#5f2a2e"><i>175.5</i></td><td style="background:#f8c5c9;color:#5d2a2e"><i>175.2</i></td></tr>
<tr><th><span>宮崎</span></th><td style="background:#f7f9fd;color:#383a3e"><i>169.1</i></td><td style="background:#f9d5d9;color:#532f33"><i>173.6</i></td><td style="background:#f6b3b8;color:#68252a"><i>177.0</i></td><td style="background:#f7b9be;color:#65272c"><i>176.4</i></td><td style="background:#f8cace;color:#5a2c30"><i>174.7</i></td><td style="background:#fad9dc;color:#513033"><i>173.2</i></td><td style="background:#f6b0b4;color:#6b2529"><i>177.4</i></td><td style="background:#f8cdd1;color:#582d31"><i>174.4</i></td><td style="background:#f8c9cd;color:#5a2b2f"><i>174.8</i></td><td style="background:#f8cdd1;color:#582d31"><i>174.4</i></td><td style="background:#fae1e4;color:#4b3235"><i>172.4</i></td><td style="background:#fbe6e9;color:#483336"><i>171.9</i></td><td style="background:#fbe7ea;color:#483437"><i>171.8</i></td><td style="background:#fbebee;color:#453538"><i>171.4</i></td><td style="background:#fceff2;color:#433639"><i>171.0</i></td><td style="background:#fbecef;color:#443538"><i>171.3</i></td><td style="background:#fbedf0;color:#433538"><i>171.2</i></td><td style="background:#fbebee;color:#453538"><i>171.4</i></td><td style="background:#fceef1;color:#433538"><i>171.1</i></td><td style="background:#fcf0f3;color:#423639"><i>170.9</i></td><td style="background:#fcf3f5;color:#403739"><i>170.6</i></td><td style="background:#fcf3f5;color:#403739"><i>170.6</i></td><td style="background:#fcf6f8;color:#3e383a"><i>170.3</i></td><td style="background:#fcf4f6;color:#3f3739"><i>170.5</i></td><td style="background:#fcf2f4;color:#413739"><i>170.7</i></td><td style="background:#fcf4f6;color:#3f3739"><i>170.5</i></td><td style="background:#fbebee;color:#453538"><i>171.4</i></td></tr>
<tr><th><span>鹿児島</span></th><td style="background:#fadde0;color:#4e3134"><i>172.8</i></td><td style="background:#f5a4a9;color:#722126"><i>178.6</i></td><td style="background:#f18187;color:#88181e"><i>182.1</i></td><td style="background:#f17e84;color:#8a171d"><i>182.4</i></td><td style="background:#f3989d;color:#791e23"><i>179.8</i></td><td style="background:#f5a9ad;color:#6f2327"><i>178.1</i></td><td style="background:#f17e84;color:#8a171d"><i>182.4</i></td><td style="background:#f5a5aa;color:#722227"><i>178.5</i></td><td style="background:#f5a8ac;color:#702327"><i>178.2</i></td><td style="background:#f4a2a7;color:#732126"><i>178.8</i></td><td style="background:#f6afb3;color:#6b2428"><i>177.5</i></td><td style="background:#f5aeb2;color:#6b2428"><i>177.6</i></td><td style="background:#f5acb0;color:#6d2428"><i>177.8</i></td><td style="background:#f6b3b8;color:#68252a"><i>177.0</i></td><td style="background:#f7b8bd;color:#66272c"><i>176.5</i></td><td style="background:#f6afb3;color:#6b2428"><i>177.5</i></td><td style="background:#f6b3b8;color:#68252a"><i>177.0</i></td><td style="background:#f6b3b7;color:#69262a"><i>177.1</i></td><td style="background:#f6b3b7;color:#69262a"><i>177.1</i></td><td style="background:#f6b3b8;color:#68252a"><i>177.0</i></td><td style="background:#f7babf;color:#64272c"><i>176.3</i></td><td style="background:#f7bbc0;color:#63272c"><i>176.2</i></td><td style="background:#f7b9be;color:#65272c"><i>176.4</i></td><td style="background:#f7bcc1;color:#63282d"><i>176.1</i></td><td style="background:#f7bbc0;color:#63272c"><i>176.2</i></td><td style="background:#f7babf;color:#64272c"><i>176.3</i></td><td style="background:#f7b9be;color:#65272c"><i>176.4</i></td></tr>
<tr><th><span>沖縄</span></th><td style="background:#fdfcfe;color:#3a393b"><i>169.7</i></td><td style="background:#f7c1c5;color:#5f292d"><i>175.6</i></td><td style="background:#f4a3a8;color:#722126"><i>178.7</i></td><td style="background:#f49ea3;color:#762025"><i>179.2</i></td><td style="background:#f49fa4;color:#752025"><i>179.1</i></td><td style="background:#f6b0b4;color:#6b2529"><i>177.4</i></td><td style="background:#ef6970;color:#971118"><i>184.5</i></td><td style="background:#f18288;color:#87181e"><i>182.0</i></td><td style="background:#f49a9f;color:#791f24"><i>179.6</i></td><td style="background:#f5aaae;color:#6e2327"><i>178.0</i></td><td style="background:#f9d0d4;color:#562d31"><i>174.1</i></td><td style="background:#f9d4d8;color:#532e32"><i>173.7</i></td><td style="background:#f9d3d7;color:#542e32"><i>173.8</i></td><td style="background:#f9d1d5;color:#562e32"><i>174.0</i></td><td style="background:#f9d7db;color:#512f33"><i>173.4</i></td><td style="background:#fad9dc;color:#513033"><i>173.2</i></td><td style="background:#fad8db;color:#512f32"><i>173.3</i></td><td style="background:#fadcdf;color:#4f3134"><i>172.9</i></td><td style="background:#fad8db;color:#512f32"><i>173.3</i></td><td style="background:#fbe8eb;color:#473437"><i>171.7</i></td><td style="background:#fbebee;color:#453538"><i>171.4</i></td><td style="background:#fbedf0;color:#433538"><i>171.2</i></td><td style="background:#fceff2;color:#433639"><i>171.0</i></td><td style="background:#fcf2f4;color:#413739"><i>170.7</i></td><td style="background:#fcf3f5;color:#403739"><i>170.6</i></td><td style="background:#fcf1f3;color:#413638"><i>170.8</i></td><td style="background:#fbeaed;color:#463538"><i>171.5</i></td></tr>
<tr class="total"><th><span>全国</span></th><td style="background:#bbcde9;color:#2a3c58"><i>164.7</i></td><td style="background:#fbedf0;color:#433538"><i>171.2</i></td><td style="background:#f8cbcf;color:#592c30"><i>174.6</i></td><td style="background:#f9d0d4;color:#562d31"><i>174.1</i></td><td style="background:#fceef1;color:#433538"><i>171.1</i></td><td style="background:#fdfbfd;color:#3b393b"><i>169.8</i></td><td style="background:#f9d5d9;color:#532f33"><i>173.6</i></td><td style="background:#fdfafc;color:#3c393b"><i>169.9</i></td><td style="background:#fdfdff;color:#3a3a3c"><i>169.6</i></td><td style="background:#f7f9fd;color:#383a3e"><i>169.1</i></td><td style="background:#e9eff8;color:#353b44"><i>168.1</i></td><td style="background:#e9eff8;color:#353b44"><i>168.1</i></td><td style="background:#ebf0f9;color:#353a43"><i>168.2</i></td><td style="background:#e9eff8;color:#353b44"><i>168.1</i></td><td style="background:#e7edf8;color:#353b46"><i>167.9</i></td><td style="background:#ebf0f9;color:#353a43"><i>168.2</i></td><td style="background:#ebf0f9;color:#353a43"><i>168.2</i></td><td style="background:#e9eff8;color:#353b44"><i>168.1</i></td><td style="background:#e9eff8;color:#353b44"><i>168.1</i></td><td style="background:#e3eaf6;color:#343b47"><i>167.6</i></td><td style="background:#e0e8f5;color:#333b48"><i>167.4</i></td><td style="background:#e0e8f5;color:#333b48"><i>167.4</i></td><td style="background:#e0e8f5;color:#333b48"><i>167.4</i></td><td style="background:#e0e8f5;color:#333b48"><i>167.4</i></td><td style="background:#e0e8f5;color:#333b48"><i>167.4</i></td><td style="background:#e1e9f6;color:#333b48"><i>167.5</i></td><td style="background:#e8eef8;color:#353b45"><i>168.0</i></td></tr>
</tbody>
</table>
</div>
<svg id="logo" width="650" height="433" viewBox="0 0 650 433" role="img" aria-label="くるまのニュース">
<defs><clipPath id="disc"><circle cx="500" cy="382.5" r="35"/></clipPath></defs>
<circle cx="500" cy="382.5" r="32.8" fill="#ff9d9d"/>
<polygon clip-path="url(#disc)" fill="#fff" points="477.6,382.5 527.6,332.5 550.2,332.5 500.2,382.5 550.2,432.5 527.6,432.5"/>
<circle cx="500" cy="382.5" r="38.5" fill="none" stroke="#ff9d9d" stroke-width="2.7"/>
<g fill="#999" stroke="#999" stroke-linejoin="round" stroke-linecap="round" font-family="'Liberation Sans','Noto Sans CJK JP',sans-serif" font-weight="100" font-size="100">
<text transform="translate(542.79,383.5) scale(0.3291,0.4122)" stroke-width="12.4">るまの</text>
<text transform="translate(545.07,413.92) scale(0.243,0.2783)" stroke-width="15">ニュース</text>
</g>
</svg>
</body>
</html>
